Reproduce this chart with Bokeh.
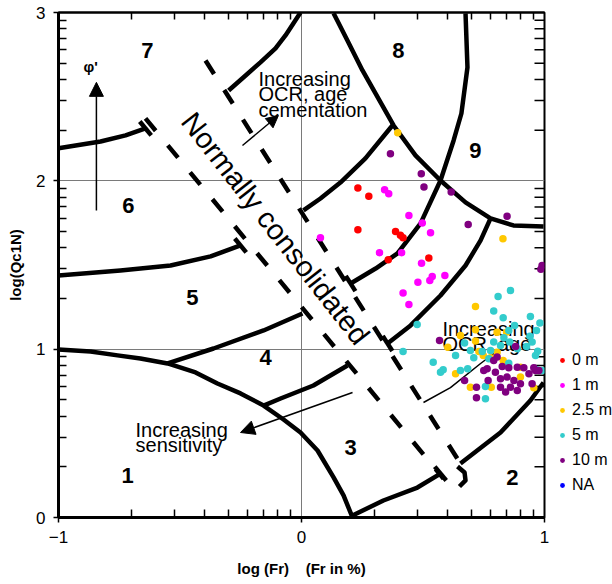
import math
from bokeh.plotting import figure
from bokeh.models import (FixedTicker, LinearAxis, Range1d, Legend, LegendItem,
                          Arrow, NormalHead)
from bokeh.core.properties import value
from bokeh.embed import file_html
from bokeh.resources import INLINE

FONT = "Liberation Sans"

# ---------------- measured points (log Fr, log Qc1N) ----------------
series_labels = ["0 m", "1 m", "2.5 m", "5 m", "10 m", "NA"]
series_colors = ["#FF0000", "#FF00FF", "#FFC800", "#33CCCC", "#800080", "#0000FF"]

logfr_0m = [0.232, 0.277, 0.232, 0.387, 0.407, 0.418, 0.357, 0.524]
logqc_0m = [1.957, 1.909, 1.709, 1.699, 1.676, 1.662, 1.531, 1.541]

logfr_1m = [0.342, 0.359, 0.442, 0.497, 0.078, 0.531, 0.321, 0.412, 0.494, 0.538,
            0.528, 0.479, 0.590, 0.418, 0.442]
logqc_1m = [1.947, 1.923, 1.794, 1.749, 1.662, 1.692, 1.573, 1.573, 1.511, 1.432,
            1.408, 1.398, 1.438, 1.333, 1.266]

logfr_2_5m = [0.396, 0.829, 0.716, 0.654, 0.716, 0.805, 0.844, 0.602, 0.716, 0.730,
              0.748, 0.778, 0.805, 0.830, 0.634, 0.695, 0.781, 0.901, 0.956, 0.901]
logqc_2_5m = [2.286, 1.656, 1.254, 1.081, 1.115, 1.101, 1.101, 1.012, 1.048, 0.986,
              0.963, 0.949, 0.982, 0.933, 0.854, 0.774, 0.774, 0.834, 0.771, 0.893]

logfr_5m = [0.809, 0.860, 0.791, 0.830, 0.942, 0.981, 0.476, 0.877, 0.853, 0.833,
            0.949, 0.791, 0.671, 0.695, 0.744, 0.778, 0.819, 0.888, 0.926, 0.972,
            0.418, 0.634, 0.709, 0.771, 0.853, 0.542, 0.572, 0.583, 0.654, 0.684,
            0.757, 0.757, 0.967, 0.990, 0.967, 0.940, 0.857, 0.963]
logqc_5m = [1.313, 1.349, 1.226, 1.186, 1.194, 1.155, 1.147, 1.141, 1.111, 1.068,
            1.042, 1.042, 1.036, 0.992, 0.986, 0.992, 1.022, 1.002, 1.016, 0.988,
            0.986, 0.963, 0.949, 0.943, 0.917, 0.923, 0.863, 0.877, 0.873, 0.883,
            0.778, 0.705, 0.877, 0.873, 1.111, 1.076, 1.042, 0.963]

logfr_10m = [0.366, 0.493, 0.504, 0.616, 0.846, 0.686, 0.990, 0.985, 0.568, 0.881,
             0.805, 0.764, 0.798, 0.826, 0.853, 0.888, 0.915, 0.956, 0.977, 0.768,
             0.819, 0.846, 0.874, 0.901, 0.819, 0.860, 0.888, 0.840, 0.949, 0.671,
             0.720, 0.720, 0.791, 0.750, 0.936, 0.963]
logqc_10m = [2.161, 2.042, 1.963, 1.933, 1.790, 1.741, 1.497, 1.475, 1.052, 1.016,
             0.953, 0.883, 0.863, 0.897, 0.889, 0.893, 0.889, 0.889, 0.873, 0.814,
             0.824, 0.834, 0.814, 0.794, 0.774, 0.774, 0.755, 0.745, 0.794, 0.814,
             0.774, 0.711, 0.933, 0.873, 0.854, 0.873]

# "NA" depth: no valid measurement (kept as a missing value)
logfr_na = [float("nan")]
logqc_na = [float("nan")]

# ---------------- axes ----------------
x_major = [-1, 0, 1]
y_major = [0, 1, 2, 3]
x_minor = [d + math.log10(m) for d in (-1, 0) for m in range(2, 10)]
y_minor = [d + math.log10(m) for d in (0, 1, 2) for m in range(2, 10)]
x_title = "log (Fr)\u00a0\u00a0\u00a0\u00a0(Fr in %)"
y_title = "log(Qc1N)"

# ---------------- chart template (soil behaviour type zones) ----------------
zone1_x = [-1.000, -0.868, -0.757, -0.663, -0.551, -0.436, -0.346, -0.251, -0.156,
           -0.074, -0.004, 0.066, 0.132, 0.173, 0.210]
zone1_y = [0.998, 0.986, 0.963, 0.945, 0.915, 0.862, 0.796, 0.737, 0.665,
           0.582, 0.505, 0.398, 0.238, 0.131, 0.000]
b67_left_x = [-1.000, -0.827, -0.724, -0.642]
b67_left_y = [2.193, 2.234, 2.270, 2.311]
b67_right_x = [-0.300, -0.230, -0.169, -0.107, -0.066, -0.004]
b67_right_y = [2.537, 2.626, 2.704, 2.787, 2.864, 3.000]
b56_left_x = [-1.000, -0.745, -0.539, -0.374, -0.251]
b56_left_y = [1.438, 1.468, 1.497, 1.551, 1.616]
b56_right_x = [0.008, 0.078, 0.160, 0.263, 0.374]
b56_right_y = [1.824, 1.895, 1.990, 2.133, 2.329]
b89_x = [0.132, 0.189, 0.251, 0.379, 0.469, 0.572, 0.675, 0.778, 0.872, 0.996]
b89_y = [2.995, 2.834, 2.656, 2.329, 2.151, 2.002, 1.872, 1.777, 1.735, 1.729]
b45_left_x = [-0.551, -0.362, -0.156, 0.004]
b45_left_y = [0.915, 1.004, 1.111, 1.212]
b45_right_x = [0.202, 0.305, 0.395, 0.490, 0.572, 0.626, 0.658, 0.683, 0.675]
b45_right_y = [1.390, 1.479, 1.569, 1.747, 2.002, 2.240, 2.400, 2.674, 2.995]
b34_left_x = [-0.156, -0.086, 0.049, 0.189]
b34_left_y = [0.665, 0.707, 0.784, 0.903]
b34_right_x = [0.354, 0.449, 0.572, 0.675, 0.737, 0.778]
b34_right_y = [1.034, 1.141, 1.319, 1.497, 1.646, 1.777]
b2_left_x = [0.210, 0.337, 0.477, 0.572]
b2_left_y = [0.012, 0.101, 0.178, 0.261]
b2_right_x = [0.654, 0.819, 0.942, 0.996]
b2_right_y = [0.321, 0.505, 0.695, 0.802]
b2_paren_x = [0.642, 0.671, 0.675, 0.650]
b2_paren_y = [0.303, 0.267, 0.220, 0.184]
ocr_low_x = [0.502, 0.613, 0.737, 0.819]
ocr_low_y = [0.683, 0.772, 0.915, 1.004]
nc_left_x = [-0.642, 0.585]
nc_left_y = [2.371, 0.230]
nc_right_x = [-0.395, 0.646]
nc_right_y = [2.715, 0.339]

zone_names = ["1", "2", "3", "4", "5", "6", "7", "8", "9"]
zone_x = [-0.716, 0.868, 0.202, -0.148, -0.449, -0.712, -0.634, 0.399, 0.716]
zone_y = [0.250, 0.238, 0.416, 0.951, 1.307, 1.854, 2.775, 2.775, 2.181]

# annotation lines (one entry per text line)
note_lines = ["Increasing", "OCR, age", "cementation",
              "Increasing", "sensitivity",
              "Increasing", "OCR, age"]
note_x = [-0.177, -0.177, -0.177, -0.683, -0.683, 0.580, 0.580]
note_y = [2.672, 2.580, 2.488, 0.586, 0.496, 1.186, 1.096]

# ---------------- figure ----------------
FW, FH = 486, 505
SX, SY = FW / 2.0, FH / 3.0
p = figure(frame_width=FW, frame_height=FH, x_range=Range1d(-1, 1), y_range=Range1d(0, 3),
           output_backend="svg", toolbar_location=None,
           min_border_left=58, min_border_top=12, min_border_bottom=67, min_border_right=68)
p.outline_line_color = "black"
p.outline_line_width = 2
p.background_fill_color = "white"
p.border_fill_color = "white"

xa = p.xaxis[0]
ya = p.yaxis[0]
xa.ticker = FixedTicker(ticks=x_major, minor_ticks=x_minor)
ya.ticker = FixedTicker(ticks=y_major, minor_ticks=y_minor)
for ax, ttl in ((xa, x_title), (ya, y_title)):
    ax.axis_label = ttl
    ax.axis_label_text_font = FONT
    ax.axis_label_text_font_style = "bold"
    ax.axis_label_text_font_size = "15px"
    ax.axis_label_text_color = "black"
    ax.major_label_text_font = FONT
    ax.major_label_text_font_size = "17px"
    ax.major_label_text_color = "black"
    ax.major_tick_in = 0
    ax.major_tick_out = 5
    ax.minor_tick_in = 8
    ax.minor_tick_out = 0
    ax.axis_line_width = 3
    ax.major_tick_line_width = 1.5
    ax.minor_tick_line_width = 1.5
xa.major_label_standoff = 8
xa.axis_label_standoff = 14
ya.major_label_standoff = 8
ya.axis_label_standoff = 9

top_ax = LinearAxis(ticker=FixedTicker(ticks=[], minor_ticks=x_minor),
                    major_tick_in=0, major_tick_out=0, minor_tick_in=7, minor_tick_out=0,
                    axis_line_width=2, minor_tick_line_width=1.5)
p.add_layout(top_ax, "above")

# inward minor ticks along the right frame edge
n_r = len(y_minor)
p.segment(x0=[1.0] * n_r, y0=y_minor, x1=[1.0 - 10 / SX] * n_r, y1=y_minor,
          line_color="black", line_width=1.5)

p.xgrid.ticker = FixedTicker(ticks=[0])
p.ygrid.ticker = FixedTicker(ticks=[1, 2])
for g in (p.xgrid, p.ygrid):
    g.grid_line_color = "#7a7a7a"
    g.grid_line_width = 1

# thick zone boundaries
thick = [(zone1_x, zone1_y), (b67_left_x, b67_left_y), (b67_right_x, b67_right_y),
         (b56_left_x, b56_left_y), (b56_right_x, b56_right_y), (b89_x, b89_y),
         (b45_left_x, b45_left_y), (b45_right_x, b45_right_y),
         (b34_left_x, b34_left_y), (b34_right_x, b34_right_y),
         (b2_left_x, b2_left_y), (b2_right_x, b2_right_y), (b2_paren_x, b2_paren_y)]
p.multi_line(xs=[t[0] for t in thick], ys=[t[1] for t in thick],
             line_color="black", line_width=4.5, line_cap="butt", line_join="round")
p.line(ocr_low_x, ocr_low_y, line_color="black", line_width=1.5)

# normally consolidated band (dashed)
p.multi_line(xs=[nc_left_x, nc_right_x], ys=[nc_left_y, nc_right_y],
             line_color="black", line_width=4.5, line_dash="16 19", line_cap="butt")

# T-bars where boundaries stop at the band
def tbar(px, py, lx, ly, half=9):
    dx = (lx[1] - lx[0]) * SX
    dy = (ly[1] - ly[0]) * SY
    n = math.hypot(dx, dy)
    ux, uy = dx / n * half / SX, dy / n * half / SY
    return [px - ux, px + ux], [py - uy, py + uy]
tb = [tbar(b67_left_x[-1], b67_left_y[-1], nc_left_x, nc_left_y),
      tbar(b56_left_x[-1], b56_left_y[-1], nc_left_x, nc_left_y),
      tbar(b2_left_x[-1], b2_left_y[-1], nc_left_x, nc_left_y),
      tbar(b45_right_x[0], b45_right_y[0], nc_right_x, nc_right_y),
      tbar(b34_right_x[0], b34_right_y[0], nc_right_x, nc_right_y)]
p.multi_line(xs=[t[0] for t in tb], ys=[t[1] for t in tb],
             line_color="black", line_width=4.5, line_cap="butt")

# arrows
p.add_layout(Arrow(end=NormalHead(size=14, fill_color="black", line_color="black"),
                   x_start=-0.844, y_start=1.824, x_end=-0.844, y_end=2.585,
                   line_width=1.5, line_color="black"))
p.add_layout(Arrow(end=NormalHead(size=14, fill_color="black", line_color="black"),
                   x_start=0.21, y_start=0.743, x_end=-0.251, y_end=0.505,
                   line_width=1.5, line_color="black"))
p.add_layout(Arrow(end=NormalHead(size=12, fill_color="black", line_color="black"),
                   x_start=-0.243, y_start=2.210, x_end=-0.095, y_end=2.388,
                   line_width=1.5, line_color="black"))

# texts
p.text(x=zone_x, y=zone_y, text=zone_names, text_font=value(FONT), text_font_size="22px",
       text_font_style="bold", text_align="center", text_baseline="middle", text_color="black")
p.text(x=note_x, y=note_y, text=note_lines, text_font=value(FONT), text_font_size="20px",
       text_align="left", text_baseline="top", text_color="black")
p.text(x=[-0.868], y=[2.680], text=["\u03c6'"], text_font=value(FONT), text_font_size="15px",
       text_font_style="bold", text_align="center", text_baseline="middle")
p.text(x=[-0.107], y=[1.717], text=["Normally consolidated"], angle=-0.907,
       text_font=value(FONT), text_font_size="29px", text_align="center",
       text_baseline="middle", text_color="black")

# data points
series = [(logfr_0m, logqc_0m), (logfr_1m, logqc_1m), (logfr_2_5m, logqc_2_5m),
          (logfr_5m, logqc_5m), (logfr_10m, logqc_10m), (logfr_na, logqc_na)]
items = []
for (xs, ys), lbl, col in zip(series, series_labels, series_colors):
    r = p.scatter(xs, ys, size=7.5, fill_color=col, line_color=None)
    items.append(LegendItem(label=lbl, renderers=[r]))

legend = Legend(items=items, location=(12, 22), label_text_font=FONT,
                label_text_font_size="16px", label_text_color="black",
                glyph_width=12, glyph_height=20, label_height=20, spacing=5,
                padding=0, margin=0, label_standoff=4,
                border_line_color=None, background_fill_alpha=0)
p.add_layout(legend, "right")

open("out.html", "w").write(file_html(p, INLINE))
